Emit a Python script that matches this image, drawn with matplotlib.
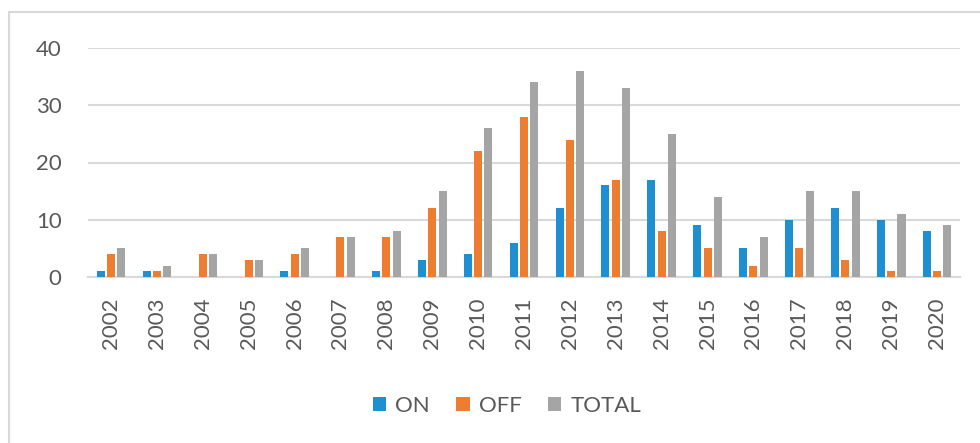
import numpy as np
import matplotlib
matplotlib.use("Agg")
import matplotlib.pyplot as plt
from matplotlib.patches import Rectangle

years = [str(y) for y in range(2002, 2021)]
on_vals = [1, 1, 0, 0, 1, 0, 1, 3, 4, 6, 12, 16, 17, 9, 5, 10, 12, 10, 8]
off_vals = [4, 1, 4, 3, 4, 7, 7, 12, 22, 28, 24, 17, 8, 5, 2, 5, 3, 1, 1]
total_vals = [5, 2, 4, 3, 5, 7, 8, 15, 26, 34, 36, 33, 25, 14, 7, 15, 15, 11, 9]

series = [("ON", on_vals, "#1f8fd2"), ("OFF", off_vals, "#ed7d31"), ("TOTAL", total_vals, "#a5a5a5")]
TXT = "#595959"
GRID = "#d9d9d9"

plt.rcParams["font.family"] = ["Lato", "DejaVu Sans"]

fig = plt.figure(figsize=(9.8, 4.43), dpi=100)
# thin frame around the chart area
fig.patches.append(Rectangle((9 / 980, -0.05), 1.1, 1 - 12 / 443 + 0.05,
                             transform=fig.transFigure, fill=False,
                             edgecolor=GRID, linewidth=1.5))

ax = fig.add_axes([88 / 980, 1 - 277 / 443, (960 - 88) / 980, (277 - 48) / 443])
x = np.arange(len(years))
pitch, w = 0.225, 0.175
for i, (name, vals, col) in enumerate(series):
    ax.bar(x + (i - 1) * pitch, vals, width=w, color=col, label=name, zorder=3)

ax.set_xlim(-0.5, len(years) - 0.5)
ax.set_ylim(0, 40)
ax.set_yticks(range(0, 41, 10))
ax.set_xticks(x)
ax.set_xticklabels(years, rotation=90)
ax.yaxis.grid(True, color=GRID, linewidth=1.5, zorder=0)
for s in ["top", "right", "left"]:
    ax.spines[s].set_visible(False)
ax.spines["bottom"].set_color(GRID)
ax.spines["bottom"].set_linewidth(1.5)
ax.tick_params(axis="both", length=0, labelsize=16, colors=TXT)
ax.tick_params(axis="y", pad=19)
ax.tick_params(axis="x", pad=15)

fig.legend(loc="center", bbox_to_anchor=(507 / 980, 1 - 406 / 443), ncol=3,
           frameon=False, fontsize=16, labelcolor=TXT, handlelength=0.6,
           handleheight=0.6, handletextpad=0.4, columnspacing=1.2)

fig.savefig("out.png", dpi=100)
